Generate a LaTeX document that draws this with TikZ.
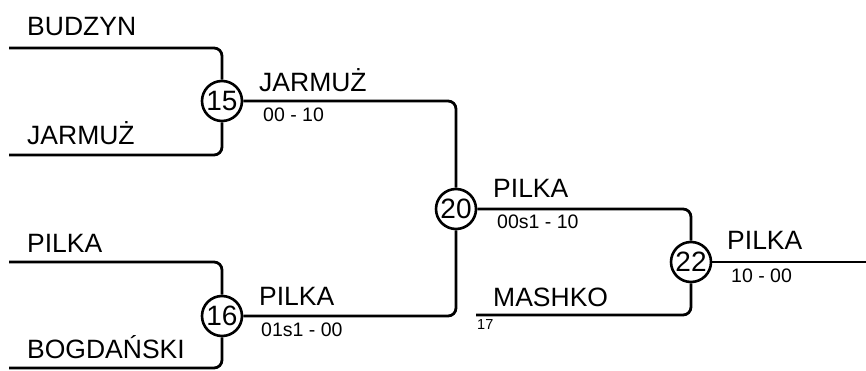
\documentclass[tikz,border=0pt]{standalone}
\usepackage{fontspec}
\setmainfont{Liberation Sans}
\begin{document}
\begin{tikzpicture}[x=1pt,y=-1pt,
  wire/.style={line width=2.8pt,rounded corners=8pt},
  game/.style={circle,draw,line width=2.6pt,minimum size=40pt,inner sep=0pt,font=\fontsize{28}{30}\selectfont},
  team/.style={anchor=base west,inner sep=0pt,font=\fontsize{26.5}{30}\selectfont},
  score/.style={anchor=base west,inner sep=0pt,font=\fontsize{19.5}{22}\selectfont},
  seed/.style={anchor=base west,inner sep=0pt,font=\fontsize{14.5}{16}\selectfont}]
\useasboundingbox (0,0) rectangle (866,371);
\node[game] (c15) at (222,101) {15};
\node[game] (c16) at (222,316) {16};
\node[game] (c20) at (456,209) {20};
\node[game] (c22) at (691,262) {22};
\coordinate (a1) at (9,48);
\coordinate (a2) at (9,155);
\coordinate (a3) at (9,262);
\coordinate (a4) at (9,368);
\coordinate (am) at (476,315);
\coordinate (fin) at (866,262);
\draw[wire] (a1) -| (c15);
\draw[wire] (a2) -| (c15);
\draw[wire] (a3) -| (c16);
\draw[wire] (a4) -| (c16);
\draw[wire] (c15) -| (c20);
\draw[wire] (c16) -| (c20);
\draw[wire] (c20) -| (c22);
\draw[wire] (am) -| (c22);
\draw[wire] (c22) -- (fin);
\node[team] (t1) at (27,36) {BUDZYN};
\node[team] (t2) at (27,145) {JARMUŻ};
\node[team] (t3) at (27,252) {PILKA};
\node[team] (t4) at (27,358) {BOGDAŃSKI};
\node[team] (w15) at (259,92) {JARMUŻ};
\node[score] (s15) at (263,122) {00 - 10};
\node[team] (w16) at (259,305) {PILKA};
\node[score] (s16) at (261,336) {01s1 - 00};
\node[team] (w20) at (493,197) {PILKA};
\node[score] (s20) at (497,228) {00s1 - 10};
\node[team] (tm) at (493,306) {MASHKO};
\node[seed] (n17) at (477,329) {17};
\node[team] (w22) at (727,249) {PILKA};
\node[score] (s22) at (731,282) {10 - 00};
\end{tikzpicture}
\end{document}
